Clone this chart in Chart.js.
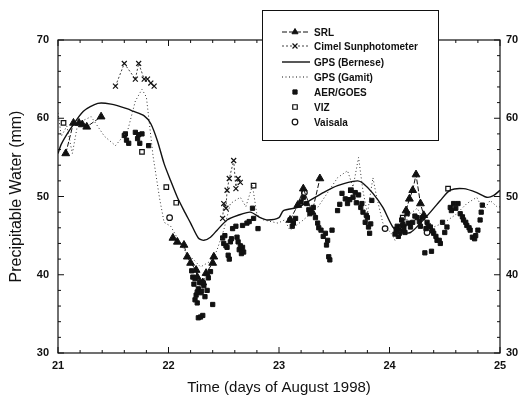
<!DOCTYPE html>
<html>
<head>
<meta charset="utf-8">
<script src="https://cdn.jsdelivr.net/npm/chart.js@4.4.1/dist/chart.umd.min.js"></script>
<style>
  body { margin: 0; background: #fff; }
  #wrap { width: 522px; height: 400px; }
</style>
</head>
<body>
<div id="wrap"><canvas id="pwChart" width="522" height="400"></canvas></div>
<script>
// axis ticks
let xTicks = [21, 22, 23, 24, 25];
let yTicks = [30, 40, 50, 60, 70];

// SRL (null = gap between days)
let srlT = [21.07, 21.14, 21.19, 21.22, 21.26, 21.39, null,
            22.04, 22.08, 22.14, 22.17, 22.20, 22.25, 22.26, 22.31, 22.34, 22.40, 22.41, null,
            23.10, 23.17, 23.22, 23.30, 23.37, null,
            24.12, 24.15, 24.18, 24.21, 24.24, 24.28, 24.31];
let srlV = [55.5, 59.4, 59.4, 59.2, 58.9, 60.2, null,
            44.7, 44.2, 43.8, 42.3, 41.5, 40.6, 39.7, 39.0, 40.2, 41.5, 42.3, null,
            47.0, 48.9, 51.0, 48.0, 52.3, null,
            46.5, 48.2, 49.7, 50.8, 52.8, 49.1, 47.6];

// Cimel sunphotometer
let cimelT = [21.52, 21.60, 21.70, 21.73, 21.78, 21.81, 21.84, 21.87, null,
              22.49, 22.50, 22.52, 22.53, 22.55, 22.59, 22.61, 22.63, 22.65];
let cimelV = [64.1, 67.0, 65.0, 67.0, 65.0, 65.0, 64.5, 64.1, null,
              47.2, 49.1, 48.5, 50.8, 52.3, 54.6, 51.0, 52.3, 51.8];

// GPS (Bernese)
let bernT = [21.00, 21.03, 21.12, 21.23, 21.36, 21.48, 21.63, 21.68, 21.78, 21.84, 21.90, 21.96,
             22.02, 22.08, 22.14, 22.20, 22.27, 22.32, 22.38, 22.44, 22.53, 22.63, 22.74, 22.83,
             22.90, 23.00, 23.04, 23.17, 23.28, 23.40, 23.53, 23.71, 23.76, 23.85, 23.94, 24.03,
             24.10, 24.19, 24.28, 24.37, 24.46, 24.55, 24.67, 24.79, 24.88, 24.94, 25.00];
let bernV = [55.5, 56.7, 58.8, 60.9, 61.9, 61.8, 61.2, 60.9, 60.3, 59.3, 57.1, 54.2,
             52.0, 49.9, 48.2, 46.6, 44.7, 44.4, 44.8, 45.7, 47.0, 47.6, 48.0, 47.3,
             47.0, 47.3, 48.2, 48.6, 49.5, 50.5, 51.4, 52.0, 51.7, 50.4, 48.6, 46.1,
             45.4, 45.4, 46.6, 48.0, 49.5, 50.8, 51.0, 50.5, 49.9, 50.1, 50.8];

// GPS (Gamit)
let gamitT = [21.00, 21.03, 21.08, 21.13, 21.18, 21.30, 21.42, 21.52, 21.63, 21.70, 21.76, 21.80,
              21.86, 21.92, 21.96, 22.02, 22.14, 22.29, 22.40, 22.44, 22.50, 22.56, 22.65, 22.70,
              22.76, 22.80, 22.86, 22.99, 23.05, 23.10, 23.22, 23.35, 23.45, 23.53, 23.62, 23.67,
              23.72, 23.76, 23.80, 23.85, 23.88, 23.94, 24.02, 24.05, 24.12, 24.19, 24.25, 24.30,
              24.40, 24.50, 24.60, 24.70, 24.79, 24.85, 24.91, 24.98, 25.00];
let gamitV = [60.7, 57.7, 59.0, 55.5, 59.4, 60.2, 57.7, 56.5, 58.4, 62.2, 63.7, 62.7,
              55.2, 49.7, 46.7, 46.2, 43.2, 41.0, 41.9, 43.2, 45.7, 49.1, 49.9, 48.7,
              51.4, 47.7, 47.0, 46.6, 47.0, 45.7, 47.0, 48.6, 50.7, 52.4, 53.3, 51.2,
              55.0, 50.7, 47.8, 52.4, 50.2, 46.6, 45.2, 44.4, 46.2, 47.8, 48.5, 47.3,
              46.1, 46.7, 47.7, 49.1, 49.9, 48.2, 49.5, 48.6, 48.7];

// AER/GOES
let aerT = [21.60, 21.62, 21.64, 21.70, 21.72, 21.74, 21.76, 21.82, 21.61, 21.73,
            22.22, 22.23, 22.25, 22.26, 22.27, 22.29, 22.33, 22.40, 22.27, 22.29, 22.31,
            22.21, 22.24, 22.28, 22.30, 22.32, 22.35, 22.36, 22.38, 22.24, 22.26,
            22.49, 22.50, 22.53, 22.54, 22.55, 22.56, 22.58, 22.61, 22.63, 22.64, 22.66, 22.67,
            22.67, 22.71, 22.76, 22.77, 22.81, 22.51, 22.52, 22.57, 22.62, 22.65, 22.68, 22.73,
            23.10, 23.12, 23.15, 23.22, 23.25, 23.28, 23.31, 23.35, 23.36, 23.42, 23.43, 23.44,
            23.45, 23.46, 23.48, 23.53, 23.57, 23.62, 23.65, 23.67, 23.72, 23.74, 23.76, 23.78,
            23.80, 23.81, 23.82, 23.84, 23.13, 23.20, 23.27, 23.33, 23.38, 23.40, 23.55, 23.60,
            23.64, 23.69, 23.70, 23.75, 23.79, 23.83,
            24.05, 24.07, 24.08, 24.10, 24.11, 24.12, 24.14, 24.16, 24.19, 24.21, 24.25, 24.28,
            24.30, 24.32, 24.34, 24.37, 24.38, 24.40, 24.43, 24.46, 24.48, 24.52, 24.55, 24.58,
            24.62, 24.64, 24.67, 24.70, 24.73, 24.75, 24.77, 24.80, 24.82, 24.83, 24.84,
            24.06, 24.09, 24.13, 24.17, 24.23, 24.27, 24.33, 24.35, 24.39, 24.42, 24.45, 24.50,
            24.56, 24.60, 24.66, 24.69, 24.72, 24.78];
let aerV = [57.8, 57.2, 56.8, 58.2, 57.4, 56.8, 58.0, 56.5, 58.0, 57.9,
            39.7, 38.8, 37.4, 36.4, 38.2, 37.7, 37.2, 36.2, 34.5, 34.6, 34.8,
            40.5, 39.5, 39.0, 37.9, 38.6, 38.0, 39.6, 40.4, 36.8, 37.8,
            44.7, 44.0, 43.5, 42.5, 42.0, 44.2, 45.9, 46.2, 44.2, 43.2, 42.7, 43.5,
            46.3, 46.6, 48.5, 47.2, 45.9, 45.0, 43.7, 44.6, 44.8, 43.7, 42.9, 46.8,
            47.0, 46.2, 47.2, 49.9, 49.1, 47.8, 48.6, 46.6, 46.0, 45.3, 43.8, 44.4,
            42.3, 41.9, 45.7, 48.2, 50.4, 49.1, 50.8, 49.9, 50.2, 48.6, 48.0, 46.7,
            47.3, 46.1, 45.3, 49.5, 46.6, 49.3, 48.3, 47.3, 45.7, 44.9, 49.0, 49.7,
            49.6, 50.5, 49.2, 49.1, 47.6, 46.5,
            45.2, 46.2, 44.9, 45.7, 47.0, 46.2, 45.4, 47.8, 46.1, 46.7, 47.3, 46.2,
            47.3, 42.8, 46.7, 46.1, 43.0, 45.3, 44.4, 44.0, 46.7, 46.1, 48.6, 49.1,
            49.1, 47.8, 47.0, 46.3, 45.7, 44.8, 44.6, 45.7, 47.0, 48.0, 48.9,
            45.8, 45.3, 45.9, 46.6, 47.5, 46.8, 45.9, 46.3, 45.6, 44.9, 44.4, 45.4,
            48.2, 48.5, 47.4, 46.7, 46.0, 45.0];

// VIZ radiosondes
let vizT = [21.05, 21.76, 21.98, 22.07, 22.77, 23.65, 24.12, 24.53];
let vizV = [59.4, 55.7, 51.2, 49.2, 51.4, 50.8, 47.3, 51.0];

// Vaisala radiosondes
let vaisT = [22.01, 22.31, 23.23, 23.96, 24.34];
let vaisV = [47.3, 39.0, 50.5, 45.9, 45.4];

function pts(ts, vs) {
  return ts.map((t, i) => ({ x: t, y: vs[i] }));
}

const ink = '#111';
const FONT = '"Liberation Sans", Arial, sans-serif';

// inward ticks + frame, drawn from the chart's own scales
const frameTicks = {
  id: 'frameTicks',
  afterDraw(chart) {
    const c = chart.ctx, a = chart.chartArea;
    const xs = chart.scales.x, ys = chart.scales.y;
    c.save();
    c.strokeStyle = ink;
    c.lineWidth = 1.2;
    c.strokeRect(a.left, a.top, a.right - a.left, a.bottom - a.top);
    c.lineWidth = 1;
    c.beginPath();
    for (let i = 0; i <= 20; i++) {
      let v = 21 + i * 0.2;
      let px = xs.getPixelForValue(v);
      let len = (i % 5 === 0) ? 6 : 3;
      c.moveTo(px, a.bottom); c.lineTo(px, a.bottom - len);
      c.moveTo(px, a.top); c.lineTo(px, a.top + len);
    }
    for (let i = 0; i <= 20; i++) {
      let v = 30 + i * 2;
      let py = ys.getPixelForValue(v);
      let len = (i % 5 === 0) ? 6 : 3;
      c.moveTo(a.left, py); c.lineTo(a.left + len, py);
      c.moveTo(a.right, py); c.lineTo(a.right - len, py);
    }
    c.stroke();
    c.restore();
  }
};

// legend box in the upper middle
const boxLegend = {
  id: 'boxLegend',
  afterDraw(chart) {
    const c = chart.ctx;
    const L = 262, T = 10, R = 438, B = 140;
    c.save();
    c.fillStyle = '#fff';
    c.fillRect(L, T, R - L, B - T);
    c.strokeStyle = ink;
    c.lineWidth = 1;
    c.strokeRect(L + 0.5, T + 0.5, R - L, B - T);
    const rows = [32, 46, 62, 77, 92, 107, 122];
    chart.data.datasets.forEach((ds, i) => {
      const y = rows[i];
      if (ds.showLine) {
        c.strokeStyle = ink;
        c.lineWidth = ds.borderWidth;
        c.setLineDash(ds.borderDash || []);
        c.beginPath(); c.moveTo(282, y); c.lineTo(310, y); c.stroke();
        c.setLineDash([]);
      }
      if (ds.pointRadius > 0) {
        c.fillStyle = ds.pointBackgroundColor;
        c.strokeStyle = ink;
        c.lineWidth = ds.pointBorderWidth || 1;
        Chart.helpers.drawPoint(c, {
          pointStyle: ds.pointStyle, radius: Math.min(ds.pointRadius, 3.5),
          borderWidth: ds.pointBorderWidth || 1
        }, 295, y);
      }
      c.fillStyle = ink;
      c.font = 'bold 10px ' + FONT;
      c.textBaseline = 'middle';
      c.fillText(ds.label, 314, y + 1);
    });
    c.restore();
  }
};

const tickFont = { family: FONT, size: 11, weight: 'bold' };

new Chart(document.getElementById('pwChart'), {
  type: 'scatter',
  data: {
    datasets: [
      { label: 'SRL', data: pts(srlT, srlV), showLine: true, spanGaps: false,
        borderColor: ink, borderWidth: 1, borderDash: [5, 2],
        pointStyle: 'triangle', pointRadius: 4.5, pointBackgroundColor: ink, pointBorderColor: ink },
      { label: 'Cimel Sunphotometer', data: pts(cimelT, cimelV), showLine: true, spanGaps: false,
        borderColor: ink, borderWidth: 0.8, borderDash: [2, 2],
        pointStyle: 'crossRot', pointRadius: 3.5, pointBorderWidth: 1.2,
        pointBackgroundColor: ink, pointBorderColor: ink },
      { label: 'GPS (Bernese)', data: pts(bernT, bernV), showLine: true,
        borderColor: ink, borderWidth: 1.4, pointRadius: 0, tension: 0.25 },
      { label: 'GPS (Gamit)', data: pts(gamitT, gamitV), showLine: true,
        borderColor: '#333', borderWidth: 1, borderDash: [1, 2.5], pointRadius: 0 },
      { label: 'AER/GOES', data: pts(aerT, aerV), showLine: false,
        pointStyle: 'rect', pointRadius: 3, pointBackgroundColor: ink, pointBorderColor: ink },
      { label: 'VIZ', data: pts(vizT, vizV), showLine: false,
        pointStyle: 'rect', pointRadius: 3.2, pointBorderWidth: 1.2,
        pointBackgroundColor: '#fff', pointBorderColor: ink },
      { label: 'Vaisala', data: pts(vaisT, vaisV), showLine: false,
        pointStyle: 'circle', pointRadius: 2.8, pointBorderWidth: 1.2,
        pointBackgroundColor: '#fff', pointBorderColor: ink }
    ]
  },
  options: {
    responsive: false,
    animation: false,
    layout: { padding: { top: 40, left: 0, right: 0, bottom: 0 } },
    plugins: { legend: { display: false }, tooltip: { enabled: false } },
    scales: {
      x: {
        type: 'linear', min: 21, max: 25,
        afterBuildTicks: s => { s.ticks = xTicks.map(v => ({ value: v })); },
        afterFit: s => { s.height = 47; },
        grid: { display: false, drawTicks: false }, border: { display: false },
        ticks: { color: ink, padding: 6, font: tickFont },
        title: { display: true, text: 'Time (days of August 1998)', color: ink,
                 padding: { top: 4, bottom: 3 }, font: { family: FONT, size: 15 } }
      },
      y: {
        type: 'linear', min: 30, max: 70, position: 'left',
        afterBuildTicks: s => { s.ticks = yTicks.map(v => ({ value: v })); },
        afterFit: s => { s.width = 58; },
        grid: { display: false, drawTicks: false }, border: { display: false },
        ticks: { color: ink, padding: 9, font: tickFont },
        title: { display: true, text: 'Precipitable Water (mm)', color: ink,
                 padding: { top: 7, bottom: 0 }, font: { family: FONT, size: 16 } }
      },
      y2: {
        type: 'linear', min: 30, max: 70, position: 'right',
        afterBuildTicks: s => { s.ticks = yTicks.map(v => ({ value: v })); },
        afterFit: s => { s.width = 22; },
        grid: { display: false, drawTicks: false }, border: { display: false },
        ticks: { color: ink, padding: 6, font: tickFont }
      }
    }
  },
  plugins: [frameTicks, boxLegend]
});
</script>
</body>
</html>
